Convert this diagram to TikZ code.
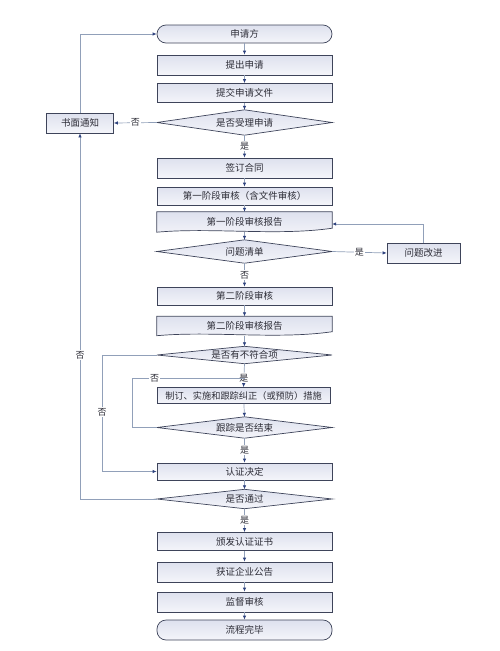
\documentclass[tikz,border=0pt]{standalone}
\usepackage{fontspec}
\setmainfont{Noto Sans CJK SC}
\usetikzlibrary{arrows.meta,backgrounds,calc}
\definecolor{bd}{RGB}{62,68,90}
\definecolor{fa}{RGB}{222,225,238}
\definecolor{fb}{RGB}{244,245,250}
\definecolor{ln}{RGB}{145,160,185}
\definecolor{tip}{RGB}{45,65,125}
\definecolor{tx}{RGB}{45,45,55}
\begin{document}
\begin{tikzpicture}[x=1pt,y=-1pt,
 font=\fontsize{9.5}{11}\selectfont, text=tx,
 box/.style={draw=bd, line width=0.7pt, top color=fa, bottom color=fb, minimum width=175pt, minimum height=19pt, inner sep=0pt},
 term/.style={box, rounded corners=9pt},
 txt/.style={minimum width=175pt, minimum height=#1, inner sep=0pt},
 conn/.style={draw=ln, line width=0.7pt, -{Latex[length=4pt,width=3.5pt,color=tip]}},
 plain/.style={draw=ln, line width=0.7pt},
 lab/.style={fill=white, inner sep=1pt, font=\fontsize{9}{10}\selectfont},
 shp/.style={draw=bd, line width=0.7pt, top color=fa, bottom color=fb}
]
\useasboundingbox (0,0) rectangle (499,651);

\node[term,minimum height=18pt] (sqf) at (244.5,34) {申请方};
\node[box,minimum height=20pt] (tc) at (244.5,65) {提出申请};
\node[box,minimum height=19pt] (tj) at (244.5,93) {提交申请文件};
\node[txt=25pt] (d1) at (244.5,122.5) {是否受理申请};
\node[box,minimum width=67pt,minimum height=20pt] (sm) at (80,123) {书面通知};
\node[box,minimum height=20pt] (qd) at (244.5,168) {签订合同};
\node[box,minimum height=18pt] (s1) at (244.5,196) {第一阶段审核（含文件审核）};
\node[txt=20pt] (b1) at (244.5,222) {第一阶段审核报告};
\node[txt=23pt] (d2) at (244.5,251.5) {问题清单};
\node[box,minimum width=73pt,minimum height=20pt] (wt) at (423.5,253) {问题改进};
\node[box,minimum height=18pt] (s2) at (244.5,296) {第二阶段审核};
\node[txt=19pt] (b2) at (244.5,326) {第二阶段审核报告};
\node[txt=17pt] (d3) at (244.5,355) {是否有不符合项};
\node[box,minimum width=173pt,minimum height=16pt,font=\fontsize{9.2}{10}\selectfont] (zd) at (243.5,395.5) {制订、实施和跟踪纠正（或预防）措施};
\node[txt=21pt] (d4) at (244.5,427.5) {跟踪是否结束};
\node[box,minimum height=17pt] (rz) at (244.5,471.5) {认证决定};
\node[txt=19pt] (d5) at (244.5,499) {是否通过};
\node[box,minimum height=18pt] (bf) at (244.5,541.5) {颁发认证证书};
\node[box,minimum height=20pt] (hz) at (244.5,572) {获证企业公告};
\node[box,minimum height=20pt] (jd) at (244.5,602) {监督审核};
\node[term,minimum height=20pt] (lc) at (244.5,630) {流程完毕};

\begin{pgfonlayer}{background}
\foreach \n in {d1,d2,d3,d4,d5}
  \path[shp] (\n.west)--(\n.north)--(\n.east)--(\n.south)--cycle;
\foreach \n in {b1,b2}
  \path[shp] (\n.north west)--(\n.north east)--([yshift=4pt]\n.south east)
    .. controls ([xshift=-55pt,yshift=-4pt]\n.south east) and ([xshift=55pt,yshift=5pt]\n.south west) .. (\n.south west)--cycle;
\end{pgfonlayer}

\coordinate (j) at (244.5,378);
\coordinate (lp) at (132,378);
\coordinate (l2) at (102,355);

\draw[conn] (sqf) -- (tc);
\draw[conn] (tc) -- (tj);
\draw[conn] (tj) -- (d1.north);
\draw[conn] (d1.south) -- node[lab]{是} (qd);
\draw[conn] (d1.west) -- node[lab]{否} (sm.east);
\draw[conn] (qd) -- (s1);
\draw[conn] (s1) -- (b1);
\draw[conn] (b1.south) -- (d2.north);
\draw[conn] (d2.south) -- node[lab]{否} (s2);
\draw[conn] (d2.east) -- node[lab]{是} (wt.west);
\draw[conn] (wt.north) |- ([yshift=-2pt]b1.east);
\draw[conn] (s2) -- (b2);
\draw[conn] (b2.south) -- (d3.north);
\draw[conn] (d3.south) -- node[lab,pos=0.6]{是} (zd.north);
\draw[plain] (d4.west) -| (lp) -- node[lab,pos=0.2]{否} (j);
\draw[conn] (zd) -- (d4.north);
\draw[conn] (d3.west) -- (l2) |- node[lab,pos=0.245]{否} (rz.west);
\draw[conn] (d4.south) -- node[lab]{是} (rz.north);
\draw[conn] (rz) -- (d5.north);
\draw[conn] (d5.west) -| node[lab,pos=0.697]{否} (sm.south);
\draw[conn] (sm.north) |- (sqf.west);
\draw[conn] (d5.south) -- node[lab]{是} (bf);
\draw[conn] (bf) -- (hz);
\draw[conn] (hz) -- (jd);
\draw[conn] (jd) -- (lc);
\end{tikzpicture}
\end{document}
